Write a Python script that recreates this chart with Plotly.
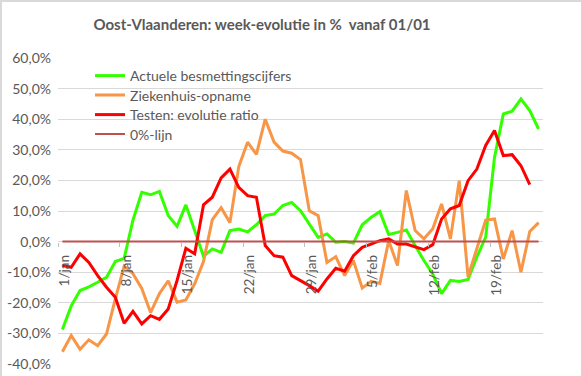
import pandas as pd
import plotly.graph_objects as go

# ---- data ----
start_date = "2021-01-01"
n_days = 55
dates = pd.date_range(start_date, periods=n_days, freq="D")

actuele = [-28.7, -21.0, -16.0, -14.8, -13.3, -11.7, -6.5, -5.5, 7.0, 16.1,
           15.3, 16.4, 8.5, 5.0, 12.0, 3.5, -4.8, -2.4, -3.5, 3.6,
           4.1, 3.2, 5.5, 8.5, 9.0, 11.8, 12.8, 10.1, 5.8, 1.4,
           2.5, -0.2, 0.0, -0.5, 5.5, 7.9, 9.8, 2.3, 3.0, 3.8,
           -1.3, -6.2, -10.6, -17.0, -12.7, -13.0, -12.4, -5.0, 1.5, 27.5,
           41.7, 42.6, 46.6, 42.8, 36.8]

ziekenhuis = [-36.0, -30.7, -35.2, -32.1, -34.0, -30.2, -18.7, -8.0, -10.5, -15.3,
              -23.2, -17.0, -12.8, -19.8, -19.1, -13.8, -6.5, 7.2, 11.1, 6.2,
              24.5, 32.5, 28.5, 40.0, 32.5, 29.6, 28.9, 26.8, 10.1, 8.5,
              -6.8, -4.9, -11.1, -6.2, -15.2, -13.0, -13.7, 0.3, -7.8, 16.7,
              3.6, 0.9, 4.2, 12.3, 0.9, 19.9, -11.5, -2.0, 7.0, 7.4,
              -5.7, 3.6, -10.0, 3.3, 6.2]

testen = [-7.8, -8.4, -4.0, -6.8, -11.1, -14.9, -18.2, -26.7, -22.8, -26.9,
          -24.2, -25.4, -22.0, -12.7, -2.2, -4.0, 12.0, 14.5, 20.8, 23.7,
          17.7, 15.0, 14.5, -1.3, -4.6, -5.1, -11.1, -12.7, -14.4, -16.2,
          -12.2, -8.7, -9.7, -4.6, -1.9, -0.8, 0.3, 0.9, -0.8, -0.8,
          -1.6, -2.6, -1.0, 7.4, 10.7, 11.8, 19.9, 23.7, 31.4, 36.3,
          28.1, 28.4, 24.8, 18.6, None]

nul_lijn = [0.0] * n_days

series_names = ["Actuele besmettingscijfers", "Ziekenhuis-opname",
                "Testen: evolutie ratio", "0%-lijn"]
series_colors = ["#33FF00", "#F79646", "#FF0000", "#C0504D"]
series_widths = [3, 3, 3, 2]

x_tick_dates = ["2021-01-01", "2021-01-08", "2021-01-15", "2021-01-22",
                "2021-01-29", "2021-02-05", "2021-02-12", "2021-02-19"]
x_tick_labels = ["1/jan", "8/jan", "15/jan", "22/jan",
                 "29/jan", "5/feb", "12/feb", "19/feb"]

y_tick_vals = [-40, -30, -20, -10, 0, 10, 20, 30, 40, 50, 60]
y_tick_labels = ["-40,0%", "-30,0%", "-20,0%", "-10,0%", "0,0%", "10,0%",
                 "20,0%", "30,0%", "40,0%", "50,0%", "60,0%"]

title_text = "Oost-Vlaanderen: week-evolutie in %\u00a0 vanaf 01/01"

# ---- figure ----
FONT = "Lato, 'Open Sans', sans-serif"
GREY = "#595959"

W, H = 581, 376
L, R, T, B = 58, 38, 58, 12
pw, ph = W - L - R, H - T - B

legend_ids = ["legend", "legend2", "legend3", "legend4"]
legend_centers_px = [74, 93.5, 113, 132.5]   # row centres from figure top

fig = go.Figure()
for vals, name, col, wid, lg in zip([actuele, ziekenhuis, testen, nul_lijn],
                                    series_names, series_colors, series_widths,
                                    legend_ids):
    fig.add_trace(go.Scatter(x=dates, y=vals, name=name, mode="lines",
                             line=dict(color=col, width=wid), legend=lg))

minor_ticks = [pd.Timestamp(d) - pd.Timedelta(hours=12) for d in x_tick_dates]

legend_layouts = {}
for lg, cpx in zip(legend_ids, legend_centers_px):
    legend_layouts[lg] = dict(
        x=(90 - L) / pw, xanchor="left", y=(H - B - (cpx - 14)) / ph, yanchor="top",
        bgcolor="rgba(0,0,0,0)", font=dict(family=FONT, size=14, color=GREY),
        itemwidth=30, borderwidth=0)

fig.update_layout(
    template="none",
    width=W, height=H,
    margin=dict(l=L, r=R, t=T, b=B, pad=0),
    paper_bgcolor="white", plot_bgcolor="white",
    font=dict(family=FONT, color=GREY, size=13),
    showlegend=True,
    hovermode=False,
    title=dict(text="<b>" + title_text + "</b>", xref="container", yref="container",
               x=262 / W, xanchor="center", y=1 - 25 / H, yanchor="middle",
               font=dict(family=FONT, size=15, color=GREY)),
    xaxis=dict(
        type="date", automargin=False,
        range=[pd.Timestamp(start_date) - pd.Timedelta(hours=12),
               pd.Timestamp(start_date) + pd.Timedelta(days=n_days) - pd.Timedelta(hours=12)],
        anchor="free", position=0.4,
        showgrid=False, zeroline=False, showline=False,
        tickmode="array", tickvals=x_tick_dates, ticktext=x_tick_labels,
        tickangle=-90, ticks="outside", ticklen=7, tickcolor="rgba(0,0,0,0)",
        ticklabelshift=2,
        tickfont=dict(family=FONT, size=13.5, color=GREY),
        minor=dict(tickmode="array", tickvals=minor_ticks, ticks="outside",
                   ticklen=4, tickcolor="#BFBFBF", showgrid=False),
    ),
    yaxis=dict(
        range=[-40, 60], automargin=False,
        tickmode="array", tickvals=y_tick_vals, ticktext=y_tick_labels,
        showgrid=True, gridcolor="#D9D9D9", gridwidth=1,
        zeroline=False, showline=False, ticks="",
        ticklabelstandoff=6,
        tickfont=dict(family=FONT, size=14, color=GREY),
    ),
    shapes=[
        dict(type="line", xref="paper", yref="paper",
             x0=-L / pw, x1=(W - L) / pw, y0=(H - B - 1) / ph, y1=(H - B - 1) / ph,
             line=dict(color="#D9D9D9", width=2)),
        dict(type="line", xref="paper", yref="paper",
             x0=(-L + 1) / pw, x1=(-L + 1) / pw, y0=-B / ph, y1=(H - B) / ph,
             line=dict(color="#D9D9D9", width=2)),
    ],
    **legend_layouts,
)

fig.write_html("out.html", config={"displayModeBar": False, "staticPlot": True},
               post_script="document.body.style.margin='0';document.body.style.overflow='hidden';")
